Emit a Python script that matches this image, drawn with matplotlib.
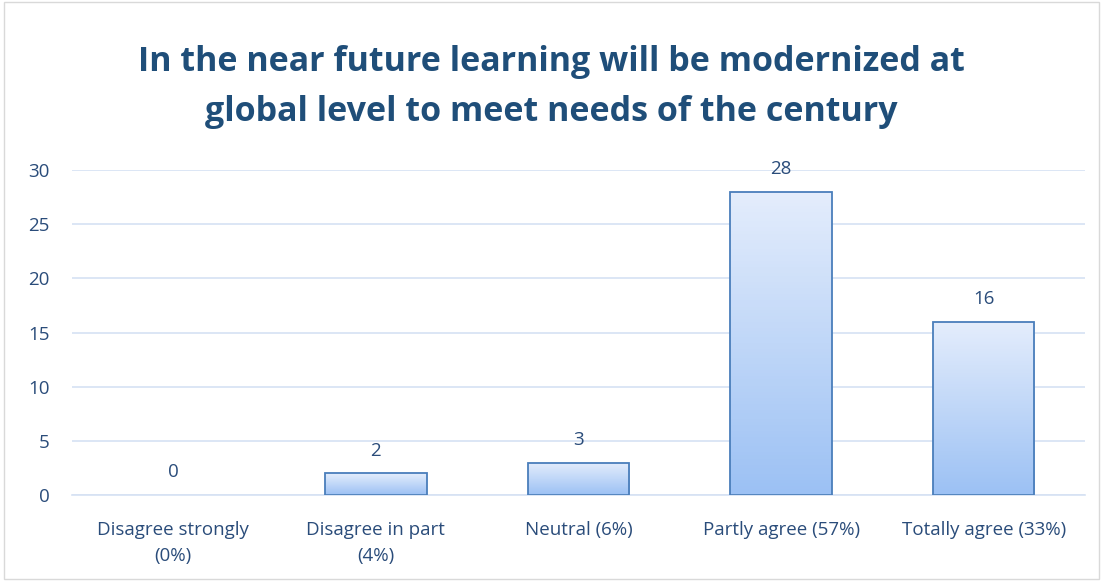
import matplotlib.pyplot as plt
import numpy as np
from matplotlib.colors import LinearSegmentedColormap

categories = ["Disagree strongly\n(0%)", "Disagree in part\n(4%)", "Neutral (6%)",
              "Partly agree (57%)", "Totally agree (33%)"]
counts = [0, 2, 3, 28, 16]
title = "In the near future learning will be modernized at\nglobal level to meet needs of the century"

plt.rcParams['font.family'] = ['Open Sans', 'DejaVu Sans']
txt_col = "#1F4E79"
lbl_col = "#2A4C7A"

fig = plt.figure(figsize=(11.03, 5.81), dpi=100)
ax = fig.add_axes([0.0653, 0.148, 0.9184, 0.5594])

x = np.arange(len(categories))
bars = ax.bar(x, counts, width=0.5, facecolor="none", edgecolor="#4A7EBB", linewidth=1.3, zorder=3)

# --- gradient fill inside each bar
grad = LinearSegmentedColormap.from_list("g", ["#9CC1F4", "#E4EDFC"])
g = np.linspace(0, 1, 100).reshape(-1, 1)
for b in bars:
    if b.get_height() <= 0:
        b.set_visible(False)
        continue
    x0, w, h = b.get_x(), b.get_width(), b.get_height()
    im = ax.imshow(g, cmap=grad, origin="lower", aspect="auto",
                   extent=[x0, x0 + w, 0, h], zorder=2)
    im.set_clip_path(b)

for xi, v in zip(x, counts):
    ax.text(xi, v + 1.25, str(v), ha="center", va="bottom", fontsize=13.5, color=lbl_col)

ax.set_xlim(-0.5, len(categories) - 0.5)
ax.set_ylim(0, 30)
ax.set_yticks(np.arange(0, 31, 5))
ax.set_xticks(x)
ax.set_xticklabels(categories, fontsize=13.5, color=lbl_col, linespacing=1.55)
ax.tick_params(axis="y", labelsize=13.5, labelcolor=lbl_col, length=0, pad=16)
ax.tick_params(axis="x", length=0, pad=19)
ax.grid(axis="y", color="#D6E2F3", linewidth=1.2, zorder=0)
ax.set_axisbelow(True)
for s in ["top", "right", "left"]:
    ax.spines[s].set_visible(False)
ax.spines["bottom"].set_color("#D6E2F3")
ax.spines["bottom"].set_linewidth(1.2)

fig.text(0.5, 0.85, title, ha="center", va="center", fontsize=24.5, fontweight="bold",
         color=txt_col, linespacing=1.6)

# figure border
fig.patches.append(plt.Rectangle((0.004, 0.004), 0.992, 0.992, transform=fig.transFigure,
                                 fill=False, edgecolor="#D9D9D9", linewidth=1))

fig.savefig("out.png", dpi=100)
